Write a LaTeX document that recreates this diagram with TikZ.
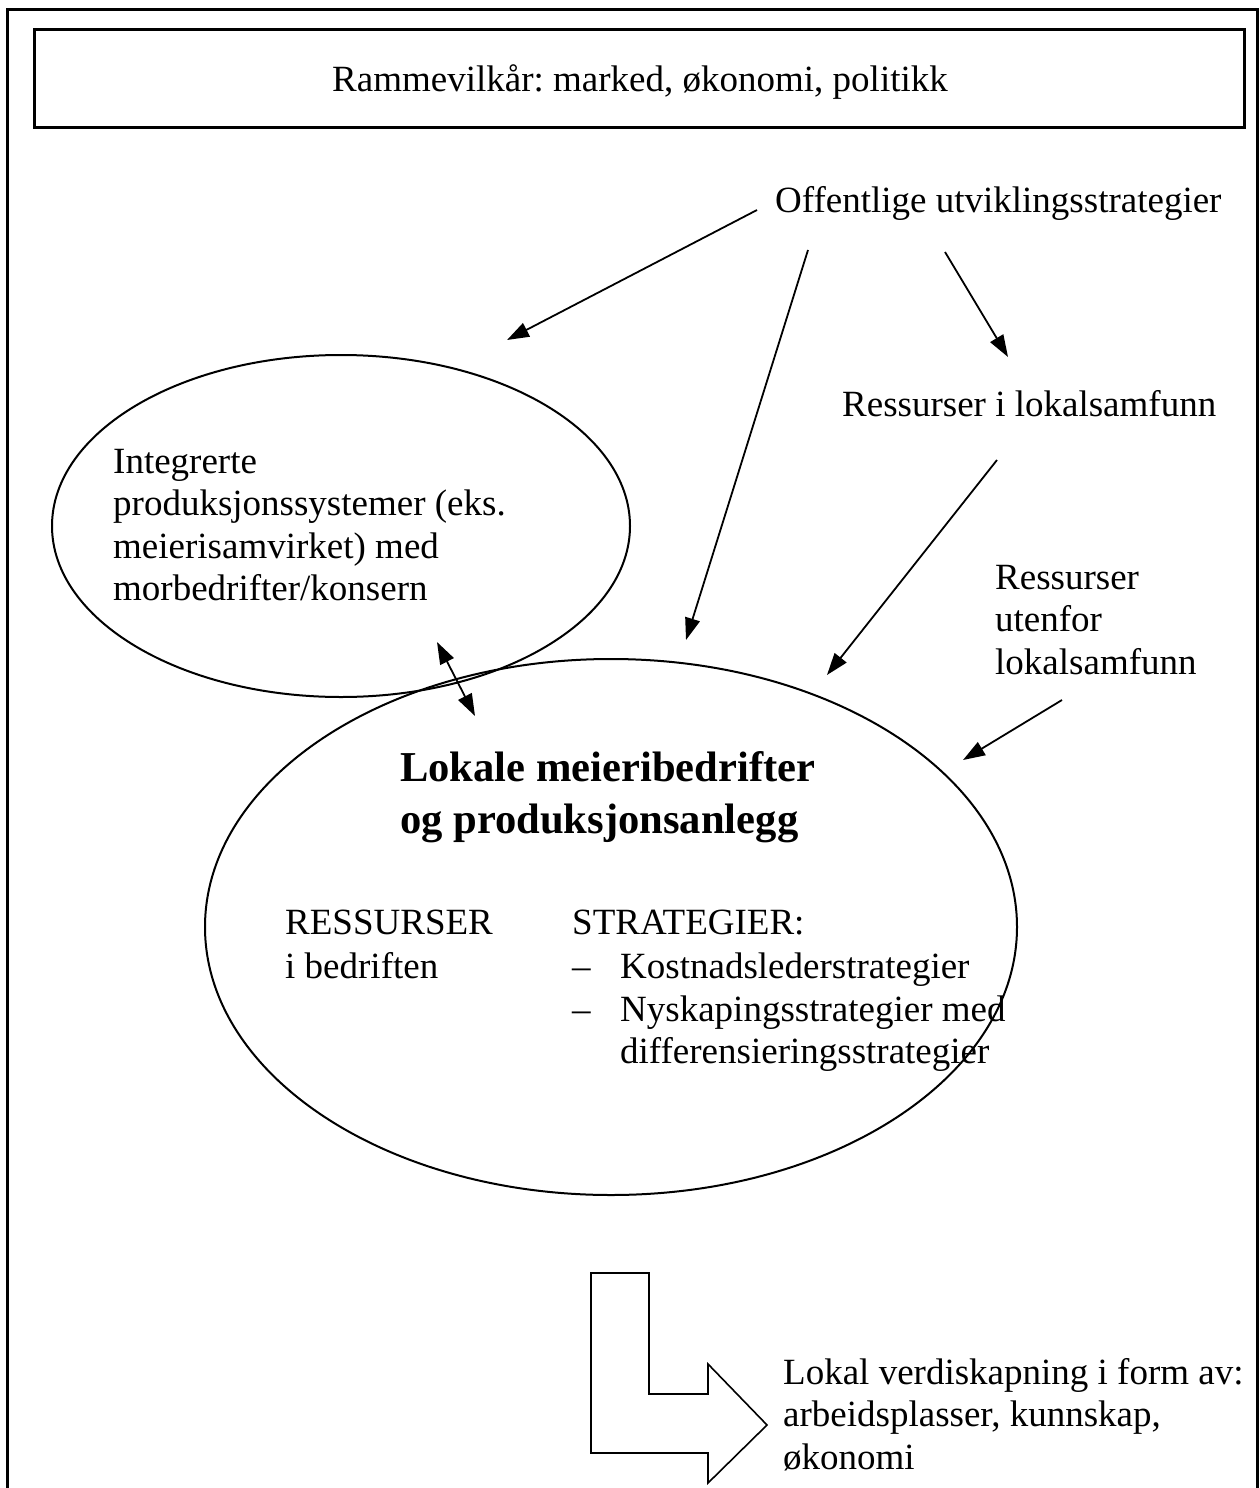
\documentclass[tikz,border=0pt]{standalone}
\usepackage{fontspec}
\setmainfont{Liberation Serif}
\usetikzlibrary{arrows.meta,shapes.geometric}
\frenchspacing
\begin{document}
\begin{tikzpicture}[x=1pt,y=-1pt,
  txt/.style={font=\fontsize{37}{42.5}\selectfont, inner sep=0pt, align=left},
  bld/.style={font=\fontsize{42.6}{52}\selectfont\bfseries, inner sep=0pt, align=left},
  arr/.style={line width=1.8pt, -{Triangle[length=22pt,width=15pt]}},
  darr/.style={line width=1.8pt, {Triangle[length=22pt,width=15pt]}-{Triangle[length=22pt,width=15pt]}},
  outl/.style={line width=2pt},
  bigarrow/.style={line width=1.6pt, line join=miter}]
\useasboundingbox (0,0) rectangle (1260,1488);
% outer frame (open at the bottom)
\draw[line width=3pt] (7,1495) -- (7,10) -- (1257,10) -- (1257,1495);
% top box
\node[draw, line width=3pt, minimum width=1210, minimum height=97, inner sep=0pt] (frame) at (639,78.5) {};
\node[txt, anchor=base] (rv) at (640,92) {Rammevilkår: marked, økonomi, politikk};
% ellipses
\node[ellipse, draw, outl, minimum width=578, minimum height=342, inner sep=0pt] (ell1) at (341,526) {};
\node[ellipse, draw, outl, minimum width=812, minimum height=536, inner sep=0pt] (ell2) at (611,927) {};
% texts (multi-line nodes: base = baseline of the last line)
\node[txt, anchor=base west] (off) at (775,212) {Offentlige utviklingsstrategier};
\node[txt, anchor=base west] (rlok) at (842,416) {Ressurser i lokalsamfunn};
\node[txt, anchor=base west] (integ) at (113,600.5) {Integrerte\\produksjonssystemer (eks.\\meierisamvirket) med\\morbedrifter/konsern};
\node[txt, anchor=base west] (rut) at (995,674) {Ressurser\\utenfor\\lokalsamfunn};
\node[bld, anchor=base west] (lok) at (400,833) {Lokale meieribedrifter\\og produksjonsanlegg};
\node[txt, anchor=base west, font=\fontsize{37}{44}\selectfont] (res) at (285,978) {RESSURSER\\i bedriften};
\node[txt, anchor=base west] (str) at (572,934) {STRATEGIER:};
\node[txt, anchor=base west] (dash1) at (572,978) {–};
\node[txt, anchor=base west] (kost) at (620,978) {Kostnadslederstrategier};
\node[txt, anchor=base west] (dash2) at (572,1021) {–};
\node[txt, anchor=base west] (nysk) at (620,1063.5) {Nyskapingsstrategier med\\differensieringsstrategier};
\node[txt, anchor=base west] (verdi) at (783,1469) {Lokal verdiskapning i form av:\\arbeidsplasser, kunnskap,\\økonomi};
% arrow end points
\coordinate (a1s) at (757,210); \coordinate (a1e) at (507,340);
\coordinate (a2s) at (808,250); \coordinate (a2e) at (686,640);
\coordinate (a3s) at (945,252); \coordinate (a3e) at (1008,357);
\coordinate (a4s) at (997,460); \coordinate (a4e) at (827,675);
\coordinate (a5s) at (1062,700); \coordinate (a5e) at (963,760);
\coordinate (d1) at (437,642); \coordinate (d2) at (475,716);
\draw[arr] (a1s) -- (a1e);
\draw[arr] (a2s) -- (a2e);
\draw[arr] (a3s) -- (a3e);
\draw[arr] (a4s) -- (a4e);
\draw[arr] (a5s) -- (a5e);
\draw[darr] (d1) -- (d2);
% L-shaped block arrow
\draw[bigarrow] (591,1273) -- (649,1273) -- (649,1394) -- (708,1394) -- (708,1364)
  -- (767,1425) -- (708,1483) -- (708,1453) -- (591,1453) -- cycle;
\end{tikzpicture}
\end{document}
